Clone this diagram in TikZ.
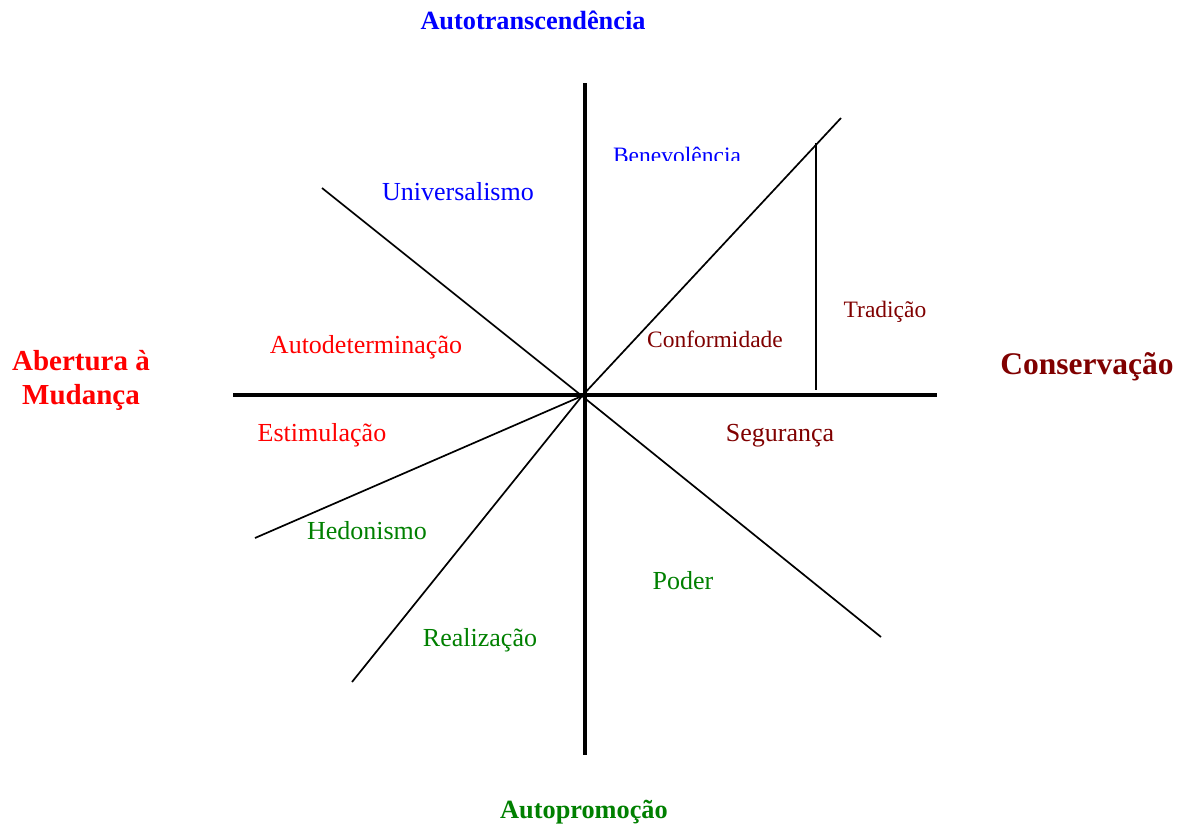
\documentclass[tikz,border=0pt]{standalone}
\usepackage{fontspec}
\setmainfont{Liberation Serif}
\definecolor{tblue}{HTML}{0000FF}
\definecolor{tred}{HTML}{FF0000}
\definecolor{tdark}{HTML}{800000}
\definecolor{tgreen}{HTML}{008000}
\tikzset{
  axis/.style={line width=3.2pt},
  ray/.style={line width=1.7pt},
  value/.style={anchor=base, inner sep=0pt, font=\fontsize{26}{30}\selectfont},
  smallvalue/.style={anchor=base, inner sep=0pt, font=\fontsize{23.5}{28}\selectfont},
  pole/.style={anchor=base, inner sep=0pt, font=\bfseries\fontsize{26.3}{30}\selectfont},
}
\begin{document}
\begin{tikzpicture}[x=1pt,y=-1pt]
\useasboundingbox (0,0) rectangle (1187,825);
\fill[white] (0,0) rectangle (1187,825);

% axes
\coordinate (c) at (582,396);
\coordinate (top) at (585,83);
\coordinate (bot) at (585,755);
\coordinate (lft) at (233,395);
\coordinate (rgt) at (937,395);
\draw[axis] (top) -- (bot);
\draw[axis] (lft) -- (rgt);

% dividing rays
\coordinate (nw) at (322,188);
\coordinate (ne) at (841,118);
\coordinate (se) at (881,637);
\coordinate (sw1) at (255,538);
\coordinate (sw2) at (352,682);
\draw[ray] (nw) -- (c);
\draw[ray] (ne) -- (c);
\draw[ray] (se) -- (c);
\draw[ray] (sw1) -- (c);
\draw[ray] (sw2) -- (c);

% split between tradition and conformity
\coordinate (tt) at (816,143);
\coordinate (tb) at (816,390);
\draw[ray] (tt) -- (tb);

% higher-order poles
\node[pole, tblue] (pAT) at (533,29) {Autotranscendência};
\node[pole, tgreen] (pAP) at (584,818) {Autopromoção};
\node[pole, tdark, font=\bfseries\fontsize{31.5}{36}\selectfont] (pCO) at (1087,374) {Conservação};
\node[pole, tred, font=\bfseries\fontsize{29}{34}\selectfont] (pAM1) at (81,370) {Abertura à};
\node[pole, tred, font=\bfseries\fontsize{29}{34}\selectfont] (pAM2) at (81,404) {Mudança};

% values
\begin{scope}
  \clip (600,120) rectangle (770,160);
  \node[smallvalue, tblue] (vBE) at (677,163) {Benevolência};
\end{scope}
\node[value, tblue] (vUN) at (458,200.5) {Universalismo};
\node[value, tred] (vAD) at (366,353.5) {Autodeterminação};
\node[value, tred] (vES) at (322,441.5) {Estimulação};
\node[value, tgreen] (vHE) at (367,539.5) {Hedonismo};
\node[value, tgreen] (vRE) at (480,646.5) {Realização};
\node[value, tgreen] (vPO) at (683,589.5) {Poder};
\node[value, tdark] (vSE) at (780,441.5) {Segurança};
\node[smallvalue, tdark] (vCF) at (715,347) {Conformidade};
\node[smallvalue, tdark] (vTR) at (885,317) {Tradição};
\end{tikzpicture}
\end{document}
